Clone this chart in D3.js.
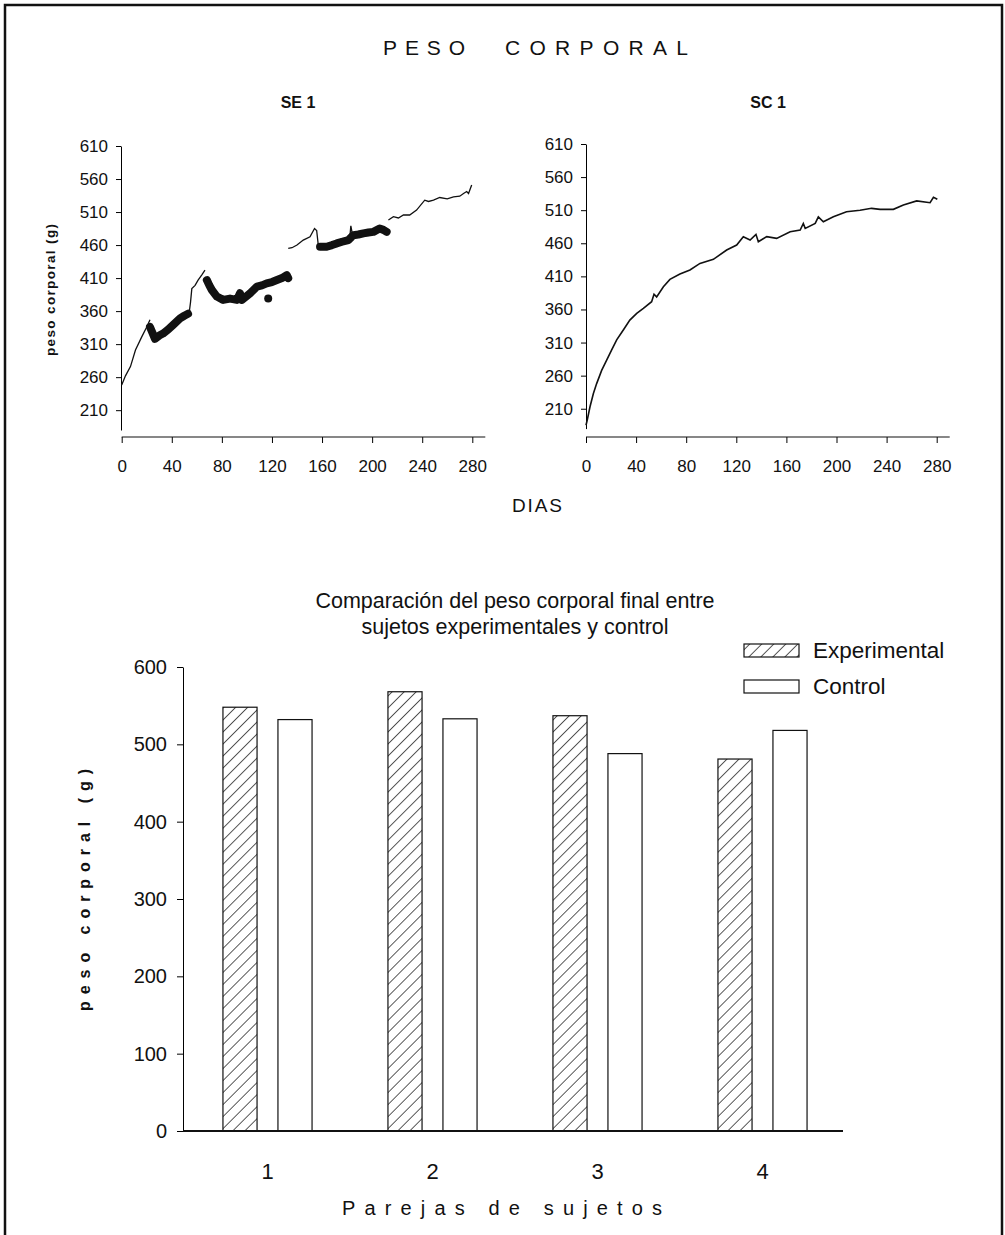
<!DOCTYPE html>
<html>
<head>
<meta charset="utf-8">
<script src="https://cdn.jsdelivr.net/npm/d3@7"></script>
<style>
  body { margin: 0; background: #fff; }
  svg text { font-family: "Liberation Sans", Arial, sans-serif; fill: #111; }
</style>
</head>
<body>
<svg id="chart" width="1005" height="1235"></svg>
<script>
// ---- data ----
const dayTicks = [0, 40, 80, 120, 160, 200, 240, 280];
const weightTicks = [210, 260, 310, 360, 410, 460, 510, 560, 610];

// SE 1: thin line pieces and thick (dotted) pieces, [day, grams]
const se1Line1 = [[0, 248], [3, 262], [7, 276], [11, 301], [16, 321], [20, 336], [22.6, 347]];
const se1Dots1 = [[22.6, 336], [26.6, 318], [30, 323], [33, 326], [37, 332], [41, 339], [46.6, 349], [50, 353], [53, 356]];
const se1Line2 = [[54, 359], [55, 374], [56, 394], [58.6, 399], [61, 407], [64, 415], [66.5, 422]];
const se1Dots2 = [[68, 407], [70, 399], [72, 392], [76, 382], [81, 377], [86.5, 379], [92, 377], [94.5, 387], [96, 377],
  [102.5, 387], [108, 397], [112, 399], [115.8, 402], [120, 404], [124, 407], [128, 410], [131.8, 414.5], [133, 410]];
const se1Outlier = [[117, 379]];
const se1Line3 = [[133, 455], [136, 456], [140, 460], [145, 467.6], [150.4, 472.6], [154, 485], [155.7, 482], [157, 460]];
const se1Dots3 = [[158.4, 457.5], [163.7, 457.5], [168, 460], [171.7, 462.5], [176, 465], [181, 467.6], [185, 475],
  [189, 476], [193, 477.7], [197, 479], [201, 480], [206, 485], [209, 483], [211.6, 480]];
const se1Spike = [[182, 468], [183, 489], [184.5, 474]];
const se1Line4 = [[213, 498], [217, 503], [221, 501], [225, 505.5], [230, 505.5], [235.5, 513], [242, 528], [245, 526],
  [249, 528], [254, 532], [260, 530], [265, 533], [270, 534], [273, 538], [275.5, 541], [277, 538], [279.5, 551]];

// SC 1: one continuous line
const sc1Line = [[0, 185], [1, 193], [3.2, 213], [5.9, 233], [8.5, 248], [12.5, 268], [16.5, 283.5], [20.5, 299],
  [24.5, 314], [29.8, 329], [35, 344], [40.5, 354], [45.8, 361.6], [52.4, 371.7], [54.3, 383], [56.4, 379],
  [61.8, 394.4], [67, 405.5], [75, 413.5], [83, 419.6], [91, 429.6], [101.7, 435.7], [112.3, 449.8], [120.3, 457.4],
  [125.6, 470], [131, 465], [135.7, 473.5], [137.6, 462.4], [144.3, 470], [152.2, 467.4], [163, 477.5], [171, 480],
  [173.5, 490], [175, 482.5], [183, 490], [185.5, 500], [189.5, 492.6], [197.5, 500], [208, 507.7], [218.8, 510],
  [228, 512.8], [234.8, 511.3], [245.4, 511.3], [253.4, 517.8], [264, 524], [274.7, 521.3], [277.4, 529.4], [280.5, 526.4]];

// bar chart
const pairs = ["1", "2", "3", "4"];
const groups = ["Experimental", "Control"];
const experimental = [548, 568, 537, 481];
const control = [532, 533, 488, 518];
const barTicks = [0, 100, 200, 300, 400, 500, 600];

// ---- drawing ----
const svg = d3.select("#chart");

// hatch pattern for experimental bars
svg.append("defs").append("pattern")
  .attr("id", "hatch")
  .attr("patternUnits", "userSpaceOnUse")
  .attr("width", 8.5).attr("height", 8.5)
  .attr("patternTransform", "rotate(45)")
  .append("line")
  .attr("x1", 0).attr("y1", 0).attr("x2", 0).attr("y2", 8.5)
  .attr("stroke", "#111").attr("stroke-width", 1.4);

// frame
svg.append("rect")
  .attr("x", 5).attr("y", 5).attr("width", 997).attr("height", 1240)
  .attr("fill", "none").attr("stroke", "#111").attr("stroke-width", 2.5);

// main title, two spaced words
svg.append("text")
  .attr("x", 383).attr("y", 55)
  .attr("font-size", 21)
  .attr("textLength", 82).attr("lengthAdjust", "spacing")
  .text("PESO");
svg.append("text")
  .attr("x", 505).attr("y", 55)
  .attr("font-size", 21)
  .attr("textLength", 183).attr("lengthAdjust", "spacing")
  .text("CORPORAL");

function panel(left, xRange, yRange, title, titleX, withLabel) {
  const x = d3.scaleLinear().domain([0, 280]).range(xRange);
  const y = d3.scaleLinear().domain([180, 610]).range(yRange);
  const g = svg.append("g");

  const yAxis = g.append("g")
    .attr("transform", `translate(${left},0)`)
    .call(d3.axisLeft(y).tickValues(weightTicks).tickSize(5).tickSizeOuter(0).tickPadding(8));
  yAxis.selectAll("text").attr("font-size", 17).style("font-family", null);

  const xAxis = g.append("g")
    .attr("transform", "translate(0,437)")
    .call(d3.axisBottom(x).tickValues(dayTicks).tickSize(6).tickSizeOuter(0).tickPadding(17));
  xAxis.select(".domain").remove();
  xAxis.selectAll("text").attr("font-size", 17).style("font-family", null);
  xAxis.append("line")
    .attr("x1", xRange[0]).attr("x2", xRange[1] + 13)
    .attr("stroke", "#111").attr("stroke-width", 1.2);

  svg.append("text")
    .attr("x", titleX).attr("y", 108)
    .attr("text-anchor", "middle")
    .attr("font-size", 16).attr("font-weight", "bold")
    .text(title);

  if (withLabel) {
    svg.append("text")
      .attr("transform", `translate(55,290) rotate(-90)`)
      .attr("text-anchor", "middle")
      .attr("font-size", 13.5).attr("font-weight", "bold")
      .attr("textLength", 132).attr("lengthAdjust", "spacing")
      .text("peso corporal (g)");
  }
  return { x, y, g };
}

const p1 = panel(121, [121.7, 472.3], [430, 146], "SE 1", 298, true);
const p2 = panel(586, [586, 936.7], [428.6, 144], "SC 1", 768, false);

const line1 = d3.line().x(d => p1.x(d[0])).y(d => p1.y(d[1]));
[se1Line1, se1Line2, se1Line3, se1Line4, se1Spike].forEach(seg => {
  p1.g.append("path").datum(seg)
    .attr("d", line1).attr("fill", "none")
    .attr("stroke", "#111").attr("stroke-width", 1.3);
});
[se1Dots1, se1Dots2, se1Dots3].forEach(seg => {
  p1.g.append("path").datum(seg)
    .attr("d", line1).attr("fill", "none")
    .attr("stroke", "#111").attr("stroke-width", 8)
    .attr("stroke-linecap", "round").attr("stroke-linejoin", "round");
});
p1.g.selectAll(".outlier").data(se1Outlier).enter()
  .append("circle")
  .attr("cx", d => p1.x(d[0])).attr("cy", d => p1.y(d[1]))
  .attr("r", 4).attr("fill", "#111");

const line2 = d3.line().x(d => p2.x(d[0])).y(d => p2.y(d[1]));
p2.g.append("path").datum(sc1Line)
  .attr("d", line2).attr("fill", "none")
  .attr("stroke", "#111").attr("stroke-width", 1.6);

svg.append("text")
  .attr("x", 537).attr("y", 512)
  .attr("text-anchor", "middle")
  .attr("font-size", 19)
  .attr("textLength", 50).attr("lengthAdjust", "spacing")
  .text("DIAS");

// ---- bar chart ----
svg.append("text")
  .attr("x", 515).attr("y", 608)
  .attr("text-anchor", "middle").attr("font-size", 21.5)
  .text("Comparación del peso corporal final entre");
svg.append("text")
  .attr("x", 515).attr("y", 634)
  .attr("text-anchor", "middle").attr("font-size", 21.5)
  .text("sujetos experimentales y control");

const bx = d3.scaleBand().domain(pairs).range([185, 845]);
const bInner = d3.scaleBand().domain(groups).range([0, bx.bandwidth()])
  .paddingInner(0.38).paddingOuter(0.69);
const by = d3.scaleLinear().domain([0, 600]).range([1131, 667]);

const yAxisB = svg.append("g")
  .attr("transform", "translate(183,0)")
  .call(d3.axisLeft(by).tickValues(barTicks).tickSize(6).tickSizeOuter(0).tickPadding(10));
yAxisB.selectAll("text").attr("font-size", 20).style("font-family", null);

const rows = pairs.map((p, i) => ({ pair: p, Experimental: experimental[i], Control: control[i] }));

svg.append("g").selectAll("g")
  .data(rows).enter()
  .append("g")
  .attr("transform", d => `translate(${bx(d.pair)},0)`)
  .selectAll("rect")
  .data(d => groups.map(k => ({ key: k, value: d[k] })))
  .enter().append("rect")
  .attr("x", d => bInner(d.key))
  .attr("y", d => by(d.value))
  .attr("width", bInner.bandwidth())
  .attr("height", d => by(0) - by(d.value))
  .attr("fill", d => d.key === "Experimental" ? "url(#hatch)" : "#fff")
  .attr("stroke", "#111").attr("stroke-width", 1.2);

const xAxisB = svg.append("g")
  .attr("transform", "translate(0,1131)")
  .call(d3.axisBottom(bx).tickSize(0).tickPadding(32));
xAxisB.select(".domain").remove();
xAxisB.selectAll("text").attr("font-size", 22).style("font-family", null);
xAxisB.append("line")
  .attr("x1", 183).attr("x2", 843)
  .attr("stroke", "#111").attr("stroke-width", 2);

svg.append("text")
  .attr("transform", "translate(90,890) rotate(-90)")
  .attr("text-anchor", "middle")
  .attr("font-size", 16).attr("font-weight", "bold")
  .attr("textLength", 242).attr("lengthAdjust", "spacing")
  .text("peso corporal (g)");

svg.append("text")
  .attr("x", 502).attr("y", 1215)
  .attr("text-anchor", "middle").attr("font-size", 20)
  .attr("textLength", 320).attr("lengthAdjust", "spacing")
  .text("Parejas de sujetos");

// legend
const legend = svg.append("g").attr("transform", "translate(744,0)");
legend.selectAll("rect")
  .data(groups).enter()
  .append("rect")
  .attr("x", 0).attr("y", (d, i) => 644 + i * 36)
  .attr("width", 55).attr("height", 13)
  .attr("fill", d => d === "Experimental" ? "url(#hatch)" : "#fff")
  .attr("stroke", "#111").attr("stroke-width", 1.2);
legend.selectAll("text")
  .data(groups).enter()
  .append("text")
  .attr("x", 69).attr("y", (d, i) => 658 + i * 36)
  .attr("font-size", 22.5)
  .text(d => d);
</script>
</body>
</html>
